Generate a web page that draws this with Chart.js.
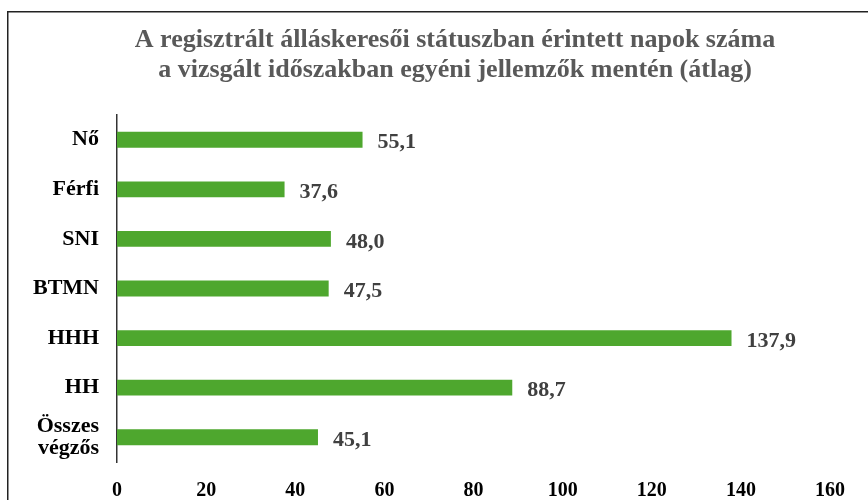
<!DOCTYPE html>
<html>
<head>
<meta charset="utf-8">
<script src="https://cdn.jsdelivr.net/npm/chart.js@4"></script>
<style>
  html, body { margin: 0; padding: 0; background: #fff; overflow: hidden; }
  #chart { position: absolute; left: 7px; top: 11px; }
</style>
</head>
<body>
<canvas id="chart" width="896" height="489"></canvas>
<script>
const categories = ["Nő", "Férfi", "SNI", "BTMN", "HHH", "HH", ["Összes", "végzős"]];
const values = [55.1, 37.6, 48.0, 47.5, 137.9, 88.7, 45.1];
const xTicks = [0, 20, 40, 60, 80, 100, 120, 140, 160];
const titleLines = [
    "A regisztrált álláskeresői státuszban érintett napok száma",
    "a vizsgált időszakban egyéni jellemzők mentén (átlag)",
];

const serif = "'Liberation Serif', 'DejaVu Serif', serif";

// keret (felső és bal él) + cím középre
const frameAndTitle = {
    id: "frameAndTitle",
    beforeDraw(chart) {
        const ctx = chart.ctx;
        ctx.save();
        ctx.strokeStyle = "#222";
        ctx.lineWidth = 1.5;
        ctx.beginPath();
        ctx.moveTo(0.75, chart.height);
        ctx.lineTo(0.75, 0.75);
        ctx.lineTo(chart.width, 0.75);
        ctx.stroke();

        ctx.font = "bold 26px " + serif;
        ctx.fillStyle = "#595959";
        ctx.textAlign = "center";
        ctx.textBaseline = "middle";
        titleLines.forEach((t, i) => {
            ctx.fillText(t, chart.width / 2, 29 + i * 30);
        });
        ctx.restore();
    },
};

const valueLabels = {
    id: "valueLabels",
    afterDatasetsDraw(chart) {
        const ctx = chart.ctx;
        const meta = chart.getDatasetMeta(0);
        ctx.save();
        ctx.font = "bold 22px " + serif;
        ctx.fillStyle = "#404040";
        ctx.textAlign = "left";
        ctx.textBaseline = "middle";
        meta.data.forEach((bar, i) => {
            ctx.fillText(values[i].toFixed(1).replace(".", ","), bar.x + 15, bar.y + 3);
        });
        ctx.restore();
    },
};

function initChart() {
    const el = document.getElementById("chart");
    new Chart(el, {
        type: "bar",
        data: {
            labels: categories,
            datasets: [
                {
                    data: values,
                    backgroundColor: "#4ea72e",
                    barPercentage: 0.32,
                    categoryPercentage: 1.0,
                },
            ],
        },
        options: {
            indexAxis: "y",
            responsive: false,
            animation: false,
            layout: { padding: { left: 8, right: 73, top: 104, bottom: 0 } },
            plugins: {
                legend: { display: false },
                tooltip: { enabled: false },
                title: { display: false },
            },
            scales: {
                x: {
                    min: 0,
                    max: 160,
                    afterBuildTicks: (axis) => {
                        axis.ticks = xTicks.map((v) => ({ value: v }));
                    },
                    afterFit: (axis) => {
                        axis.height = 38;
                    },
                    grid: { display: false, drawTicks: false },
                    border: { display: false },
                    ticks: {
                        color: "#000",
                        padding: 17,
                        font: { family: serif, size: 20, weight: "bold" },
                    },
                },
                y: {
                    afterFit: (axis) => {
                        axis.width = 102;
                    },
                    grid: { display: false, drawTicks: false },
                    border: { display: true, color: "#333", width: 1.5 },
                    ticks: {
                        color: "#000",
                        padding: 18,
                        font: { family: serif, size: 22, weight: "bold", lineHeight: 1.0 },
                    },
                },
            },
        },
        plugins: [frameAndTitle, valueLabels],
    });
}

document.addEventListener("DOMContentLoaded", () => {
    initChart();
});
</script>
</body>
</html>
